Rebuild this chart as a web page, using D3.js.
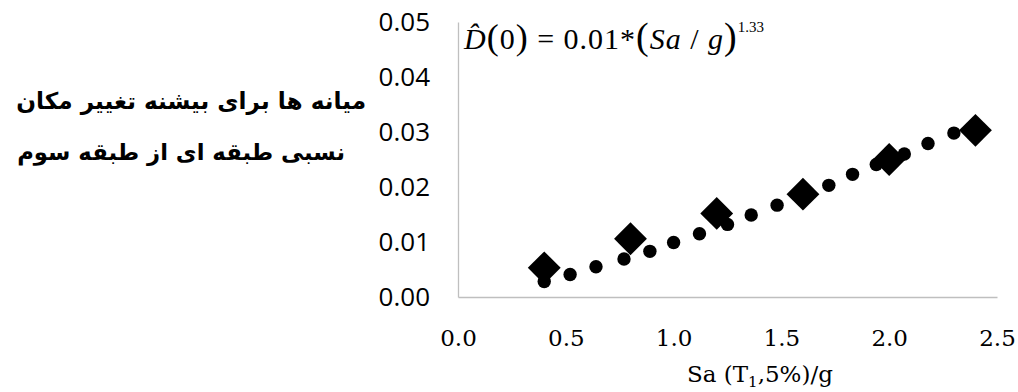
<!DOCTYPE html>
<html>
<head>
<meta charset="utf-8">
<script src="https://cdn.jsdelivr.net/npm/d3@7"></script>
<style>
  body { margin: 0; background: #fff; }
  svg { display: block; }
</style>
</head>
<body>
<div id="chart"></div>
<script>
// data
var saMedian = [0.4, 0.8, 1.2, 1.6, 2.0, 2.4];
var dMedian = [0.0053, 0.0106, 0.0152, 0.0187, 0.0250, 0.0303];

var saFit = [0.40, 0.52, 0.64, 0.77, 0.89, 1.00, 1.12, 1.25, 1.36, 1.48, 1.72, 1.83, 1.94, 2.07, 2.18, 2.30];
var dFit = [0.0028, 0.0041, 0.0055, 0.0069, 0.0083, 0.0099, 0.0115, 0.0132, 0.0149, 0.0167, 0.0203, 0.0223, 0.0241, 0.0260, 0.0279, 0.0298];

var xTicks = [0, 0.5, 1.0, 1.5, 2.0, 2.5];
var yTicks = [0, 0.01, 0.02, 0.03, 0.04, 0.05];

var yTitle = ["میانه ها برای بیشنه تغییر مکان", "نسبی طبقه ای از طبقه سوم"];
var xTitle = "Sa (T";

var W = 1018, H = 392;
var plot = {left: 458, right: 997, top: 22, bottom: 297};

var svg = d3.select("#chart").append("svg")
    .attr("width", W)
    .attr("height", H);

var x = d3.scaleLinear().domain([0, 2.5]).range([plot.left, plot.right]);
var y = d3.scaleLinear().domain([0, 0.05]).range([plot.bottom, plot.top]);

// x axis
var gx = svg.append("g")
    .attr("transform", "translate(0," + plot.bottom + ")")
    .call(d3.axisBottom(x).tickValues(xTicks).tickFormat(d3.format(".1f"))
        .tickSize(0).tickSizeOuter(0).tickPadding(33));
gx.select(".domain").attr("stroke", "#bfbfbf").attr("stroke-width", 1.3);
gx.selectAll("text")
    .style("font-family", "DejaVu Serif")
    .style("font-size", "23px")
    .attr("fill", "#000");

// y axis
var gy = svg.append("g")
    .attr("transform", "translate(" + plot.left + ",0)")
    .call(d3.axisLeft(y).tickValues(yTicks).tickFormat(d3.format(".2f"))
        .tickSize(0).tickSizeOuter(0).tickPadding(28));
gy.select(".domain").attr("stroke", "#bfbfbf").attr("stroke-width", 1.3);
gy.selectAll("text")
    .style("font-family", "Open Sans")
    .style("font-size", "26px")
    .attr("fill", "#000");

// x axis title  Sa (T1,5%)/g
var xt = svg.append("text")
    .attr("x", 687)
    .attr("y", 382)
    .style("font-family", "DejaVu Serif")
    .style("font-size", "23px")
    .attr("fill", "#000");
xt.append("tspan").text(xTitle);
xt.append("tspan").attr("dy", 5).style("font-size", "15px").text("1");
xt.append("tspan").attr("dy", -5).text(",5%)/g");

// persian y title
var yt = [{txt: yTitle[0], right: 366, base: 109, w: 350},
          {txt: yTitle[1], right: 345, base: 160, w: 328}];
yt.forEach(function(d) {
    var t = svg.append("text")
        .attr("x", d.right)
        .attr("y", d.base)
        .attr("text-anchor", "end")
        .style("font-family", "DejaVu Sans")
        .style("font-weight", "bold")
        .style("font-size", "24px")
        .text(d.txt);
    var len = t.node().getComputedTextLength();
    t.style("font-size", (24 * d.w / len) + "px");
});

// formula  D^(0) = 0.01*(Sa/g)^1.33
var f = svg.append("text")
    .attr("x", 464)
    .attr("y", 49)
    .style("font-family", "Liberation Serif")
    .style("font-size", "30px")
    .style("letter-spacing", "1px")
    .attr("fill", "#000");
f.append("tspan").style("font-style", "italic").text("D\u0302");
f.append("tspan").style("font-size", "36px").text("(");
f.append("tspan").text("0");
f.append("tspan").style("font-size", "36px").text(")");
f.append("tspan").text(" = 0.01*");
f.append("tspan").style("font-size", "38px").text("(");
f.append("tspan").style("font-style", "italic").text("Sa");
f.append("tspan").text(" / ");
f.append("tspan").style("font-style", "italic").text("g");
f.append("tspan").style("font-size", "38px").text(")");
f.append("tspan").attr("dy", -17).style("font-size", "15px").style("letter-spacing", "0px").text("1.33");

// fitted curve points
svg.append("g").selectAll("circle")
    .data(saFit)
    .enter().append("circle")
    .attr("cx", function(d) { return x(d); })
    .attr("cy", function(d, i) { return y(dFit[i]); })
    .attr("r", 6.7)
    .attr("fill", "#000");

// median points
var diamond = d3.symbol().type(d3.symbolSquare).size(540);
svg.append("g").selectAll("path")
    .data(saMedian)
    .enter().append("path")
    .attr("d", diamond)
    .attr("transform", function(d, i) {
        return "translate(" + x(d) + "," + y(dMedian[i]) + ") rotate(45)";
    })
    .attr("fill", "#000");
</script>
</body>
</html>
